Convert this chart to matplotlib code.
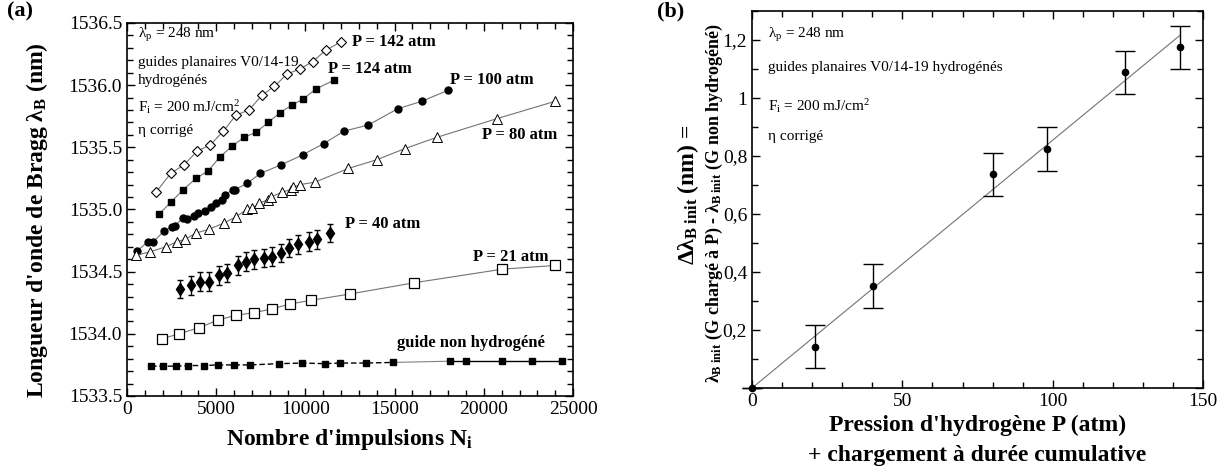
#!/usr/bin/env python3
# -*- coding: utf-8 -*-
"""Bragg wavelength shift vs pulses (a) and vs hydrogen pressure (b)."""

import numpy as np
import matplotlib
matplotlib.use("Agg")
from matplotlib import pyplot as plt
from matplotlib.ticker import MultipleLocator, FuncFormatter

# ---- panel (a) data: number of pulses / Bragg wavelength (nm)
n_142 = [1625, 2448, 3195, 3942, 4671, 5400, 6109, 6838, 7567, 8258,
         8968, 9697, 10406, 11135, 12013]
l_142 = [1535.14, 1535.29, 1535.36, 1535.47, 1535.52, 1535.63, 1535.76,
         1535.80, 1535.92, 1535.99, 1536.09, 1536.13, 1536.19, 1536.28,
         1536.35]

n_124 = [1775, 2466, 3157, 3867, 4540, 5194, 5885, 6558, 7212, 7922,
         8576, 9248, 9883, 10593, 11602]
l_124 = [1534.96, 1535.06, 1535.16, 1535.25, 1535.31, 1535.42, 1535.51,
         1535.58, 1535.62, 1535.70, 1535.78, 1535.84, 1535.89, 1535.97,
         1536.04]

n_100 = [579, 1177, 1476, 2093, 2504, 2690, 3120, 3344, 3755, 3998, 4372,
         4690, 4970, 5306, 5493, 5960, 6053, 6726, 7473, 8650, 9846, 11023,
         12163, 13527, 15171, 16516, 18011]
l_100 = [1534.67, 1534.74, 1534.74, 1534.83, 1534.86, 1534.87, 1534.93,
         1534.92, 1534.95, 1534.97, 1534.99, 1535.02, 1535.05, 1535.08,
         1535.12, 1535.16, 1535.16, 1535.21, 1535.29, 1535.36, 1535.44,
         1535.53, 1535.63, 1535.68, 1535.81, 1535.87, 1535.96]

n_80 = [504, 1289, 2186, 2784, 3251, 3849, 4577, 5418, 6091, 6707, 7025,
        7417, 7922, 8053, 8706, 9174, 9323, 9697, 10537, 12406, 13994,
        15582, 17357, 20720, 23989]
l_80 = [1534.63, 1534.66, 1534.70, 1534.74, 1534.76, 1534.81, 1534.84,
        1534.89, 1534.94, 1535.00, 1535.01, 1535.05, 1535.08, 1535.10,
        1535.14, 1535.16, 1535.18, 1535.20, 1535.22, 1535.33, 1535.40,
        1535.49, 1535.58, 1535.73, 1535.87]

n_40 = [2971, 3587, 4092, 4615, 5175, 5624, 6203, 6670, 7137, 7679, 8146,
        8650, 9099, 9603, 10182, 10631, 11378]
l_40 = [1534.36, 1534.39, 1534.42, 1534.42, 1534.47, 1534.49, 1534.55,
        1534.58, 1534.60, 1534.61, 1534.62, 1534.65, 1534.69, 1534.72,
        1534.74, 1534.76, 1534.81]
e_40 = [0.075] * len(n_40)

n_21 = [1943, 2915, 4054, 5082, 6109, 7118, 8109, 9136, 10332, 12481,
        16068, 21037, 23971]
l_21 = [1533.96, 1534.00, 1534.05, 1534.11, 1534.15, 1534.17, 1534.20,
        1534.24, 1534.27, 1534.32, 1534.41, 1534.52, 1534.55]

n_ref = [1345, 1999, 2746, 3419, 4316, 5101, 5997, 6894, 8520, 9809, 11079,
         11920, 13396, 14891, 18086, 18982, 21037, 22700, 24382]
l_ref = [1533.74, 1533.74, 1533.74, 1533.745, 1533.745, 1533.75, 1533.75,
         1533.75, 1533.76, 1533.765, 1533.76, 1533.765, 1533.765, 1533.77,
         1533.78, 1533.78, 1533.78, 1533.78, 1533.78]
e_ref = [0.012] * len(n_ref)

# ---- panel (b) data: pressure (atm) / shift (nm)
p_b = [0, 21.1, 40.2, 80.1, 98.2, 124.2, 142.2]
d_b = [0.0, 0.142, 0.351, 0.737, 0.825, 1.089, 1.175]
e_b = [0.0, 0.074, 0.075, 0.074, 0.075, 0.074, 0.075]


def style_axes(ax):
    ax.tick_params(which="both", direction="in", top=True, right=True,
                   width=1.0, labelsize=14)
    ax.tick_params(which="major", length=6)
    ax.tick_params(which="minor", length=4)
    for sp in ax.spines.values():
        sp.set_linewidth(1.2)


def main():
    plt.rcParams["font.family"] = ["Liberation Serif", "DejaVu Serif"]
    plt.rcParams["mathtext.fontset"] = "custom"
    plt.rcParams["mathtext.rm"] = "Liberation Serif"
    plt.rcParams["mathtext.it"] = "Liberation Serif:italic"
    plt.rcParams["mathtext.bf"] = "Liberation Serif:bold"

    fig = plt.figure(figsize=(12.31, 4.73), dpi=100)
    ax1 = fig.add_axes([0.1032, 0.1628, 0.3623, 0.7886])
    ax2 = fig.add_axes([0.6109, 0.1797, 0.3664, 0.7970])

    # ----- (a)
    line_kw = dict(color="0.45", lw=0.8)
    ax1.plot(n_142, l_142, **line_kw)
    ax1.plot(n_142, l_142, "D", ms=5, mfc="white", mec="black", mew=0.8)
    ax1.plot(n_124, l_124, **line_kw)
    ax1.plot(n_124, l_124, "s", ms=5, color="black")
    ax1.plot(n_100, l_100, **line_kw)
    ax1.plot(n_100, l_100, "o", ms=5, color="black")
    ax1.plot(n_80, l_80, **line_kw)
    ax1.plot(n_80, l_80, "^", ms=6.5, mfc="white", mec="black", mew=0.7)
    ax1.errorbar(n_40, l_40, yerr=e_40, fmt="d", ms=6, color="black",
                 ecolor="black", elinewidth=1.0, capsize=2.5)
    ax1.plot(n_21, l_21, **line_kw)
    ax1.plot(n_21, l_21, "s", ms=6.5, mfc="white", mec="black", mew=0.9)

    k = 14
    ax1.plot(n_ref[:k], l_ref[:k], color="black", lw=1.0, ls=(0, (4, 2)))
    ax1.plot(n_ref[k - 1:k + 1], l_ref[k - 1:k + 1], color="0.5", lw=0.8)
    ax1.plot(n_ref[k:], l_ref[k:], color="black", lw=1.0)
    ax1.errorbar(n_ref, l_ref, yerr=e_ref, fmt="s", ms=4.5, color="black",
                 elinewidth=0.8, capsize=2)

    ax1.set_xlim(0, 25000)
    ax1.set_ylim(1533.5, 1536.5)
    ax1.xaxis.set_major_locator(MultipleLocator(5000))
    ax1.xaxis.set_minor_locator(MultipleLocator(1000))
    ax1.yaxis.set_major_locator(MultipleLocator(0.5))
    ax1.yaxis.set_minor_locator(MultipleLocator(0.1))
    ax1.yaxis.set_major_formatter(FuncFormatter(lambda v, p: f"{v:.1f}"))
    style_axes(ax1)

    bold = dict(fontsize=12, fontweight="bold", va="center")
    ax1.text(12611, 1536.35, "P = 142 atm", **bold)
    ax1.text(11266, 1536.13, "P = 124 atm", **bold)
    ax1.text(18104, 1536.04, "P = 100 atm", **bold)
    ax1.text(19898, 1535.60, "P = 80 atm", **bold)
    ax1.text(12219, 1534.88, "P = 40 atm", **bold)
    ax1.text(19393, 1534.62, "P = 21 atm", **bold)
    ax1.text(15133, 1533.93, "guide non hydrogéné", **bold)

    info = dict(fontsize=11, va="center", transform=ax1.transAxes)
    ax1.text(0.025, 0.968, r"λ$_\mathrm{p}$ = 248 nm", **info)
    ax1.text(0.025, 0.893, "guides planaires V0/14-19", **info)
    ax1.text(0.025, 0.847, "hydrogénés", **info)
    ax1.text(0.025, 0.775, r"F$_\mathrm{i}$ = 200 mJ/cm$^\mathrm{2}$", **info)
    ax1.text(0.025, 0.713, "η corrigé", **info)

    fig.text(0.030, 0.535, r"Longueur d'onde de Bragg λ$_\mathbf{B}$ (nm)",
             rotation=90, fontsize=17, fontweight="bold",
             ha="center", va="center")
    fig.text(0.284, 0.07, r"Nombre d'impulsions N$_\mathbf{i}$",
             fontsize=17, fontweight="bold", ha="center", va="center")
    fig.text(0.006, 0.975, "(a)", fontsize=16, fontweight="bold",
             ha="left", va="center")

    # ----- (b)
    px = np.array(p_b)
    dy = np.array(d_b)
    slope = np.sum(px * dy) / np.sum(px * px)
    xfit = np.array([0, px.max()])
    ax2.plot(xfit, slope * xfit, color="0.45", lw=0.8)
    ax2.errorbar(p_b, d_b, yerr=e_b, fmt="o", ms=4.5, color="black",
                 elinewidth=1.0, capsize=7, capthick=1.0, clip_on=False)

    ax2.set_xlim(0, 150)
    ax2.set_ylim(0, 1.3)
    ax2.xaxis.set_major_locator(MultipleLocator(50))
    ax2.xaxis.set_minor_locator(MultipleLocator(10))
    ax2.yaxis.set_major_locator(MultipleLocator(0.2))
    ax2.yaxis.set_minor_locator(MultipleLocator(0.1))

    def comma(v, p):
        if abs(v) < 1e-9:
            return ""
        s = f"{v:.1f}".replace(".", ",")
        return s[:-2] if s.endswith(",0") else s

    ax2.yaxis.set_major_formatter(FuncFormatter(comma))
    style_axes(ax2)

    info2 = dict(fontsize=11, va="center", transform=ax2.transAxes)
    ax2.text(0.035, 0.936, r"λ$_\mathrm{p}$ = 248 nm", **info2)
    ax2.text(0.035, 0.851, "guides planaires V0/14-19 hydrogénés", **info2)
    ax2.text(0.035, 0.748, r"F$_\mathrm{i}$ = 200 mJ/cm$^\mathrm{2}$",
             **info2)
    ax2.text(0.035, 0.666, "η corrigé", **info2)

    fig.text(0.559, 0.588, r"Δλ$_\mathbf{B\ init}$ (nm) =", rotation=90,
             fontsize=17, fontweight="bold", ha="center", va="center")
    fig.text(0.580, 0.571,
             r"λ$_\mathbf{B\ init}$ (G chargé à P) - "
             r"λ$_\mathbf{B\ init}$ (G non hydrogéné)",
             rotation=90, fontsize=13, fontweight="bold",
             ha="center", va="center")
    fig.text(0.794, 0.1015, "Pression d'hydrogène P (atm)", fontsize=17,
             fontweight="bold", ha="center", va="center")
    fig.text(0.794, 0.038, "+ chargement à durée cumulative", fontsize=17,
             fontweight="bold", ha="center", va="center")
    fig.text(0.534, 0.975, "(b)", fontsize=16, fontweight="bold",
             ha="left", va="center")

    fig.savefig("out.png", dpi=100)


if __name__ == "__main__":
    main()
